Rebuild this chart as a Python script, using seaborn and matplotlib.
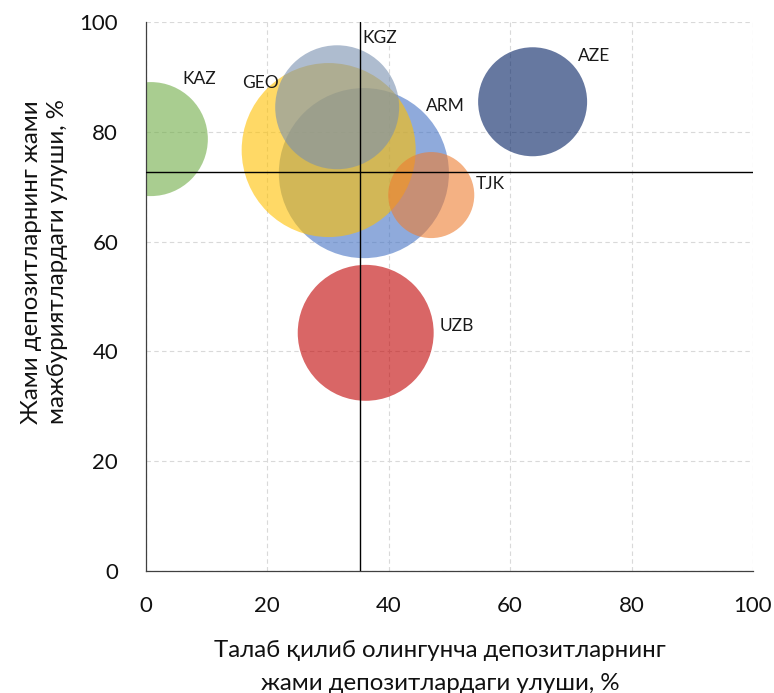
import matplotlib

matplotlib.use("Agg")

import matplotlib.pyplot as plt
import pandas as pd
import seaborn as sns

# values
countries = ["ARM", "AZE", "GEO", "KAZ", "KGZ", "TJK", "UZB"]
demand_share = [35.9, 63.7, 30.1, 0.8, 31.5, 47.0, 36.2]      # x, %
deposit_share = [72.5, 85.5, 76.7, 78.7, 84.5, 68.5, 43.4]    # y, %
bubble_size = [72.3, 29.7, 75.7, 32.5, 38.4, 18.5, 46.2]
mean_x = 35.2
mean_y = 72.7

colors = {
    "ARM": "#4472C4",
    "AZE": "#001E61",
    "GEO": "#FFC000",
    "KAZ": "#70AD47",
    "KGZ": "#7990B0",
    "TJK": "#ED7D31",
    "UZB": "#C00000",
}
# label offsets from bubble centre, in points
label_offsets = {
    "ARM": (45, 48),
    "AZE": (33, 33),
    "GEO": (-62, 48),
    "KAZ": (23, 43),
    "KGZ": (18, 50),
    "TJK": (32, 8),
    "UZB": (53, 5),
}

df = pd.DataFrame({
    "country": countries,
    "x": demand_share,
    "y": deposit_share,
    "size": bubble_size,
})

sns.set_theme(style="white")
plt.rcParams["font.family"] = ["Lato", "Noto Sans", "DejaVu Sans"]

fig = plt.figure(figsize=(7.74, 6.93), dpi=100)
ax = fig.add_axes([0.1886, 0.176, 0.7842, 0.792])

ax.grid(True, color="#D9D9D9", linestyle=(0, (4, 3)), linewidth=0.8)
ax.set_axisbelow(True)

sns.scatterplot(
    data=df,
    x="x",
    y="y",
    hue="country",
    palette=colors,
    size="size",
    sizes=(0, 20736),
    size_norm=(0, 100),
    alpha=0.6,
    linewidth=0,
    edgecolor="none",
    legend=False,
    ax=ax,
)

ax.axvline(mean_x, color="black", linewidth=1.0, zorder=3)
ax.axhline(mean_y, color="black", linewidth=1.0, zorder=3)

for _, row in df.iterrows():
    ax.annotate(
        row["country"],
        (row["x"], row["y"]),
        xytext=label_offsets[row["country"]],
        textcoords="offset points",
        ha="left",
        va="center",
        fontsize=12.5,
        color="#1A1A1A",
    )

ax.set_xlim(0, 100)
ax.set_ylim(0, 100)
ax.set_xticks(range(0, 101, 20))
ax.set_yticks(range(0, 101, 20))
ax.tick_params(axis="both", labelsize=16, direction="out", length=6, width=0.8,
               color="#404040", labelcolor="#111111")
ax.tick_params(axis="y", pad=14)
ax.tick_params(axis="x", pad=12)
for side in ["top", "right"]:
    ax.spines[side].set_visible(False)
for side in ["left", "bottom"]:
    ax.spines[side].set_color("#404040")
    ax.spines[side].set_linewidth(0.9)

ax.set_xlabel("Талаб қилиб олингунча депозитларнинг\nжами депозитлардаги улуши, %",
              fontsize=17.3, linespacing=1.7, color="#111111")
ax.set_ylabel("Жами депозитларнинг жами\nмажбуриятлардаги улуши, %",
              fontsize=17.3, linespacing=1.34, color="#111111")
ax.xaxis.set_label_coords(0.485, -0.125)
ax.yaxis.set_label_coords(-0.128, 0.563)

fig.savefig("out.png", dpi=100)
